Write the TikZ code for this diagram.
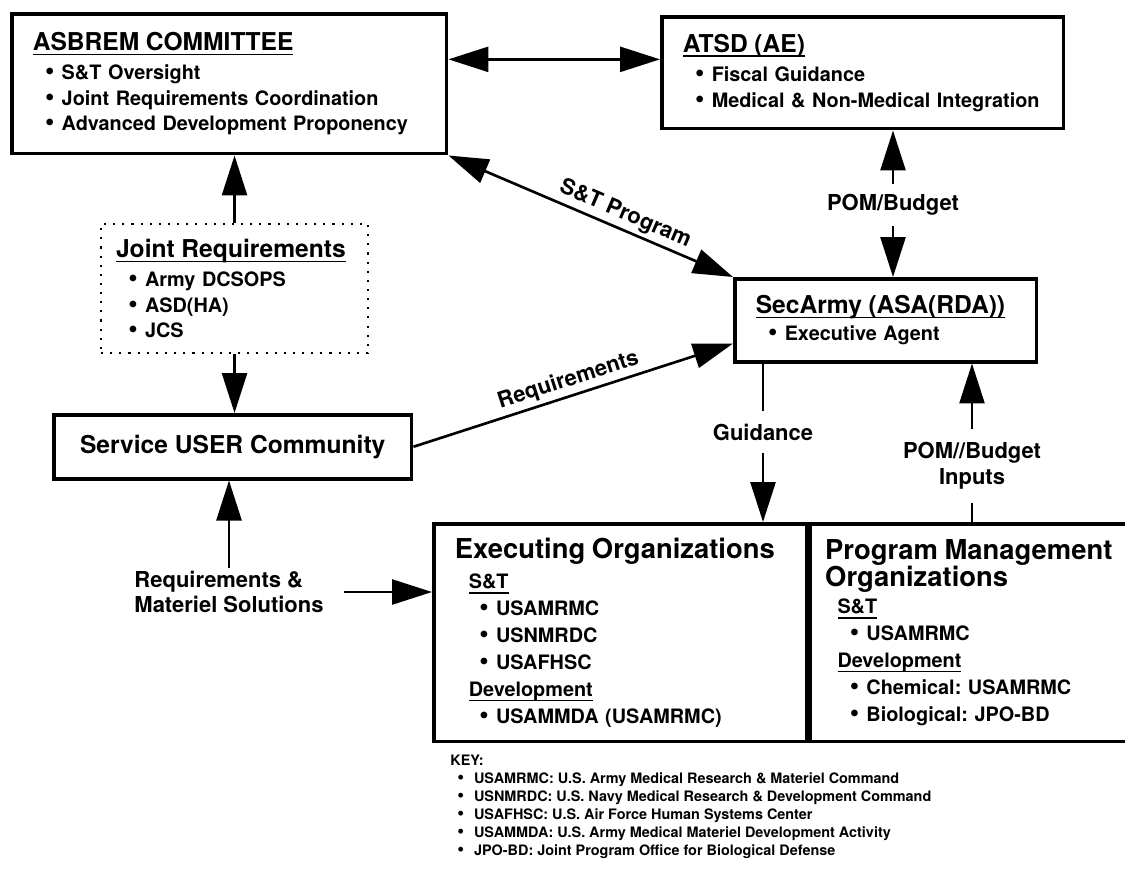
\documentclass[tikz,border=0pt]{standalone}
\usepackage{fontspec}
\setmainfont{TeX Gyre Heros}
\usetikzlibrary{calc,positioning,arrows.meta}
\tikzset{
  box/.style={draw, line width=2pt, anchor=north west, align=left, inner xsep=0.42cm, inner ysep=0pt,
              font=\bfseries\fontsize{11.3}{14.6}\selectfont},
  dotbox/.style={box, line width=1.2pt, dash pattern=on 1.2pt off 4pt, inner xsep=0.3cm},
  conn/.style={line width=1.5pt},
  arr/.style={conn, -{Triangle[length=0.8cm,width=0.5cm]}},
  dbl/.style={conn, {Triangle[length=0.8cm,width=0.5cm]}-{Triangle[length=0.8cm,width=0.5cm]}},
  lab/.style={font=\bfseries\fontsize{12.5}{15}\selectfont, inner sep=2pt},
  keytxt/.style={anchor=north west, align=left, inner sep=0pt, font=\bfseries\fontsize{8.2}{10.2}\selectfont},
}
\newcommand{\ttl}[1]{\setbox0\hbox{#1}\rlap{\rule[-2.8pt]{\wd0}{1pt}}\box0}
\newcommand{\hd}[1]{{\fontsize{14}{16}\selectfont #1}}
\newcommand{\hdx}[1]{{\fontsize{15.6}{17}\selectfont #1}}
\newcommand{\bul}[2][7pt]{\hspace*{#1}\makebox[9.5pt][l]{\scalebox{1.35}{\textbullet}}#2}
\frenchspacing
\begin{document}
\begin{tikzpicture}[x=0.02cm, y=-0.02cm]
  \useasboundingbox (0,0) rectangle (1125,869);

  % upper boxes
  \node[box, minimum height=2.8cm, text width=7.86cm] (asbrem) at (10,12)
    {\hd{\ttl{ASBREM COMMITTEE}}\\[2pt]
     \bul{S\&T Oversight}\\
     \bul{Joint Requirements Coordination}\\
     \bul{Advanced Development Proponency}};
  \node[box, minimum height=2.24cm, text width=7.2cm] (atsd) at (660,15)
    {\hd{\ttl{ATSD (AE)}}\\[2pt]
     \bul{Fiscal Guidance}\\
     \bul{Medical \& Non-Medical Integration}};
  \node[box, minimum height=1.66cm, text width=5.2cm] (secarmy) at (733,277)
    {\hd{\ttl{SecArmy (ASA(RDA))}}\\[1pt]
     \bul{Executive Agent}};
  \node[dotbox, minimum height=2.58cm, text width=4.74cm] (jr) at (100,223)
    {\hd{\ttl{Joint Requirements}}\\[2pt]
     \bul{Army DCSOPS}\\
     \bul{ASD(HA)}\\
     \bul{JCS}};
  \node[box, align=center, minimum width=7.16cm, minimum height=1.28cm, font=\bfseries\fontsize{14}{16}\selectfont]
    (service) at (52,413) {Service USER Community};

  % lower boxes
  \node[box, minimum height=4.36cm, text width=6.62cm, font=\bfseries\fontsize{11.3}{15.3}\selectfont]
    (exec) at (432,522)
    {\hdx{Executing Organizations}\\[2pt]
     \hspace*{8pt}\ttl{S\&T}\\
     \bul[14pt]{USAMRMC}\\
     \bul[14pt]{USNMRDC}\\
     \bul[14pt]{USAFHSC}\\
     \hspace*{8pt}\ttl{Development}\\
     \bul[14pt]{USAMMDA (USAMRMC)}};
  \node[box, minimum height=4.36cm, text width=6.1cm, inner xsep=0.3cm, font=\bfseries\fontsize{11.3}{15.3}\selectfont]
    (pm) at (exec.north east)
    {\hdx{Program Management}\\
     \hdx{Organizations}\\
     \hspace*{7pt}\ttl{S\&T}\\
     \bul[14pt]{USAMRMC}\\
     \hspace*{7pt}\ttl{Development}\\
     \bul[14pt]{Chemical: USAMRMC}\\
     \bul[14pt]{Biological: JPO-BD}};

  % labels
  \node[lab, inner ysep=0.2cm] (pom) at (893,205) {POM/Budget};
  \node[lab, inner ysep=0.25cm] (guid) at (763,432) {Guidance};
  \node[lab, align=center, inner ysep=0.25cm] (inp) at (972,466) {POM//Budget\\Inputs};
  \node[lab, align=left, inner xsep=0.4cm, font=\bfseries\fontsize{12.5}{14}\selectfont] (reqmat) at (229,592)
    {Requirements \&\\Materiel Solutions};

  % connectors
  \coordinate (asbremr) at ($(asbrem.north east)!0.33!(asbrem.south east)$);
  \draw[dbl] (asbremr) -- (asbremr -| atsd.west);
  \draw[dbl] (asbrem.south east) -- node[lab, sloped, above, pos=0.6] {S\&T Program} (secarmy.north west);
  \draw[arr] (pom.north) -- (pom.north |- atsd.south);
  \draw[arr] (pom.south) -- (pom.south |- secarmy.north);
  \draw[arr] (jr.north) -- (jr.north |- asbrem.south);
  \draw[arr] (jr.south) -- (jr.south |- service.north);
  \draw[arr] (service.east) -- node[lab, sloped, above] {Requirements} ([yshift=0.4cm]secarmy.south west);
  \draw[conn] (guid.north |- secarmy.south) -- (guid.north);
  \draw[arr] (guid.south) -- (guid.south |- exec.north);
  \draw[conn] (inp.south |- pm.north) -- (inp.south);
  \draw[arr] (inp.north) -- (inp.north |- secarmy.south);
  \draw[arr] (reqmat.north) -- (reqmat.north |- service.south);
  \draw[arr] (reqmat.east) -- (reqmat.east -| exec.west);

  % key
  \node[keytxt] (key) at (450,755)
    {KEY:\\
     \bul[4pt]{USAMRMC: U.S. Army Medical Research \& Materiel Command}\\
     \bul[4pt]{USNMRDC: U.S. Navy Medical Research \& Development Command}\\
     \bul[4pt]{USAFHSC: U.S. Air Force Human Systems Center}\\
     \bul[4pt]{USAMMDA: U.S. Army Medical Materiel Development Activity}\\
     \bul[4pt]{JPO-BD: Joint Program Office for Biological Defense}};
\end{tikzpicture}
\end{document}
